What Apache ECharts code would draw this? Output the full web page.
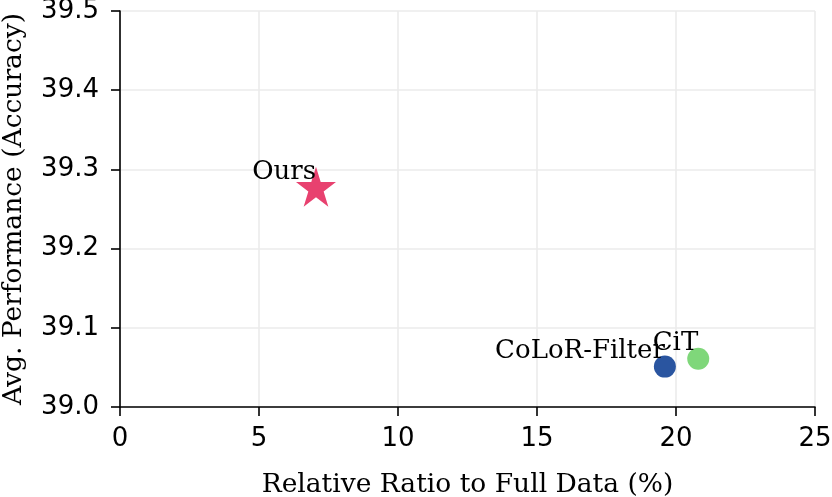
<!DOCTYPE html>
<html><head><meta charset="utf-8">
<script src="https://cdn.jsdelivr.net/npm/echarts@6/dist/echarts.min.js"></script>
<style>html,body{margin:0;padding:0;background:#fff}#c{width:832px;height:497px}</style>
</head><body><div id="c"></div>
<script>
const methods = ['Ours', 'CoLoR-Filter', 'CiT'];
const ratios = [7.05, 19.6, 20.8];
const accuracy = [39.278, 39.051, 39.061];
const colors = ['#e8416f', '#2a55a0', '#7fd77a'];
const xTicks = [0, 5, 10, 15, 20, 25];
const yTicks = [39.0, 39.1, 39.2, 39.3, 39.4, 39.5];

const starPath = 'path://M50,0 L61.2,34.5 L97.6,34.5 L68.2,55.9 L79.4,90.5 L50,69.1 L20.6,90.5 L31.8,55.9 L2.4,34.5 L38.8,34.5 Z';
const serif = 'DejaVu Serif';
const sans = 'DejaVu Sans';

const series = methods.map((m, i) => ({
  type: 'scatter',
  name: m,
  symbol: i === 0 ? starPath : 'circle',
  symbolSize: i === 0 ? 40 : 22,
  itemStyle: { color: colors[i], opacity: 1 },
  z: 2 + i,
  data: [[ratios[i], accuracy[i]]],
  label: {
    show: true,
    formatter: m,
    position: 'inside',
    align: 'right',
    verticalAlign: 'bottom',
    offset: [0, 0],
    fontFamily: serif,
    fontSize: 26,
    lineHeight: 30,
    color: '#000'
  },
  labelLayout: { hideOverlap: false },
  emphasis: { disabled: true }
}));

const chart = echarts.init(document.getElementById('c'), null, { renderer: 'canvas' });
chart.setOption({
  animation: false,
  grid: { left: 120, right: 17, top: 11, bottom: 90, containLabel: false, outerBoundsMode: 'none' },
  xAxis: {
    type: 'value', min: 0, max: 25, interval: 5,
    name: 'Relative Ratio to Full Data (%)', nameLocation: 'middle', nameGap: 65,
    nameTextStyle: { fontFamily: serif, fontSize: 26.5, color: '#000' },
    axisLine: { lineStyle: { color: '#000', width: 1.6 } },
    axisTick: { show: true, inside: false, length: 9, lineStyle: { color: '#000', width: 1.6 } },
    axisLabel: { fontFamily: sans, fontSize: 26, color: '#000', margin: 19, formatter: v => String(v) },
    splitLine: { show: true, lineStyle: { color: '#ebebeb', width: 1.6 } }
  },
  yAxis: {
    type: 'value', min: 39.0, max: 39.5, interval: 0.1,
    name: 'Avg. Performance (Accuracy)', nameLocation: 'middle', nameGap: 92,
    nameTextStyle: { fontFamily: serif, fontSize: 26.5, color: '#000' },
    axisLine: { show: true, lineStyle: { color: '#000', width: 1.6 } },
    axisTick: { show: true, inside: false, length: 9, lineStyle: { color: '#000', width: 1.6 } },
    axisLabel: { fontFamily: sans, fontSize: 26, color: '#000', margin: 21, formatter: v => v.toFixed(1) },
    splitLine: { show: true, lineStyle: { color: '#ebebeb', width: 1.6 } }
  },
  series: series
});
</script></body></html>
